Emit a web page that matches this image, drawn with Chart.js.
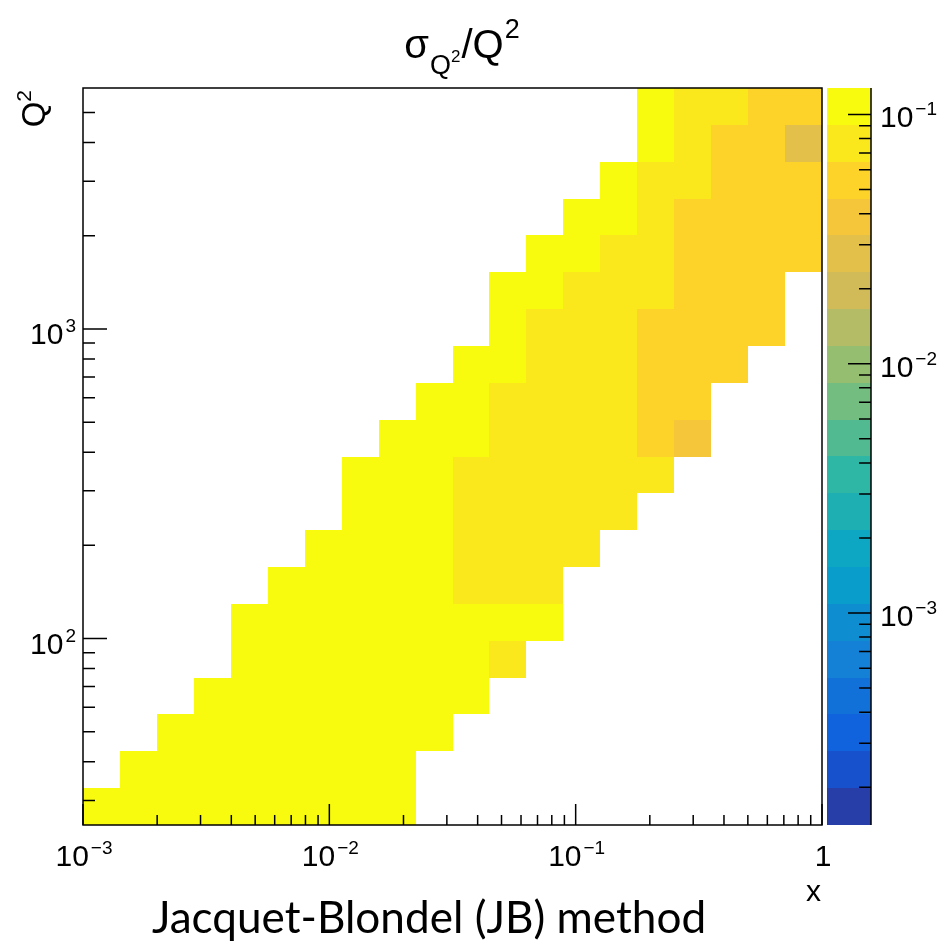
<!DOCTYPE html>
<html lang="en">
<head>
  <meta charset="UTF-8" />
  <title>sigma_Q2 / Q2 - Jacquet-Blondel method</title>
  <script src="https://cdn.jsdelivr.net/npm/chart.js"></script>
  <style>
    body { margin: 0; background: #fff; }
    #wrap { width: 937px; height: 945px; position: relative; }
  </style>
</head>
<body>
  <div id="wrap"><canvas id="jbChart" width="937" height="945"></canvas></div>

  <script>
    // histogram binning (log x, log Q2), 20 x 20 bins
    const xRange = [1e-3, 1];
    const yRange = [25, 6000];
    const zRange = [1.41e-4, 0.1277];
    const nBinsX = 20;
    const nBinsY = 20;
    const nContours = 20;

    // first filled x-bin of each Q2 row (row 0 = lowest Q2)
    const rowFirstBin = [0, 1, 2, 3, 4, 4, 5, 6, 7, 7, 8, 9, 10, 11, 11, 12, 13, 14, 15, 15];

    // sigma_Q2/Q2 in each filled bin, row by row
    const rowValues = [
      [0.127, 0.12, 0.12, 0.12, 0.12, 0.12, 0.12, 0.12, 0.12],
      [0.12, 0.12, 0.12, 0.12, 0.12, 0.12, 0.12, 0.12],
      [0.11, 0.11, 0.11, 0.11, 0.11, 0.11, 0.11, 0.11],
      [0.11, 0.11, 0.11, 0.11, 0.11, 0.11, 0.11, 0.10],
      [0.11, 0.11, 0.11, 0.11, 0.11, 0.11, 0.10, 0.08],
      [0.10, 0.10, 0.10, 0.10, 0.10, 0.10, 0.10, 0.10, 0.10],
      [0.10, 0.10, 0.10, 0.10, 0.10, 0.08, 0.08, 0.08],
      [0.10, 0.10, 0.10, 0.10, 0.078, 0.078, 0.078, 0.078],
      [0.10, 0.10, 0.10, 0.076, 0.076, 0.076, 0.076, 0.076],
      [0.10, 0.10, 0.10, 0.074, 0.074, 0.074, 0.074, 0.074, 0.074],
      [0.10, 0.10, 0.095, 0.074, 0.074, 0.074, 0.074, 0.056, 0.040],
      [0.10, 0.095, 0.072, 0.072, 0.072, 0.072, 0.055, 0.055],
      [0.10, 0.095, 0.072, 0.072, 0.072, 0.055, 0.055, 0.055],
      [0.095, 0.072, 0.072, 0.072, 0.054, 0.054, 0.054, 0.054],
      [0.10, 0.095, 0.072, 0.072, 0.072, 0.054, 0.054, 0.054],
      [0.10, 0.095, 0.072, 0.070, 0.054, 0.054, 0.054, 0.054],
      [0.10, 0.095, 0.070, 0.054, 0.054, 0.054, 0.054],
      [0.10, 0.068, 0.068, 0.053, 0.053, 0.053],
      [0.10, 0.068, 0.053, 0.052, 0.029],
      [0.10, 0.068, 0.072, 0.053, 0.052]
    ];

    // tick labels: [base, exponent]
    const xTickValues = [1e-3, 1e-2, 1e-1, 1];
    const xTickLabels = [["10", "\u22123"], ["10", "\u22122"], ["10", "\u22121"], ["1", ""]];
    const yTickValues = [100, 1000];
    const yTickLabels = [["10", "2"], ["10", "3"]];
    const zTickValues = [1e-3, 1e-2, 1e-1];
    const zTickLabels = [["10", "\u22123"], ["10", "\u22122"], ["10", "\u22121"]];

    // ROOT kBird palette
    const birdStops = [0.0, 0.125, 0.25, 0.375, 0.5, 0.625, 0.75, 0.875, 1.0];
    const birdR = [0.2082, 0.0592, 0.0780, 0.0232, 0.1802, 0.5301, 0.8186, 0.9956, 0.9764];
    const birdG = [0.1664, 0.3599, 0.5041, 0.6419, 0.7178, 0.7492, 0.7328, 0.7862, 0.9832];
    const birdB = [0.5293, 0.8684, 0.8385, 0.7914, 0.6425, 0.4662, 0.3499, 0.1968, 0.0539];

    const FONT = '"Liberation Sans", Arial, Helvetica, sans-serif';

    function birdColor(t) {
      let k = 0;
      while (k < birdStops.length - 2 && t > birdStops[k + 1]) k++;
      const f = (t - birdStops[k]) / (birdStops[k + 1] - birdStops[k]);
      const c = arr => Math.round(255 * (arr[k] + (arr[k + 1] - arr[k]) * f));
      return `rgb(${c(birdR)},${c(birdG)},${c(birdB)})`;
    }

    // colour of contour band b, the way ROOT picks it from 255 palette colours
    function bandColor(b) {
      const idx = Math.floor((b + 0.99) * 255 / nContours);
      return birdColor(Math.min(idx, 254) / 254);
    }

    function bandOf(v) {
      const lo = Math.log10(zRange[0]), hi = Math.log10(zRange[1]);
      const b = Math.floor((Math.log10(v) - lo) / (hi - lo) * nContours);
      return Math.max(0, Math.min(nContours - 1, b));
    }

    function logEdge(range, n, i) {
      const lo = Math.log10(range[0]), hi = Math.log10(range[1]);
      return Math.pow(10, lo + (hi - lo) * i / n);
    }

    const cells = [];
    rowValues.forEach((vals, r) => {
      vals.forEach((v, k) => {
        const i = rowFirstBin[r] + k;
        cells.push({
          x: Math.sqrt(logEdge(xRange, nBinsX, i) * logEdge(xRange, nBinsX, i + 1)),
          y: Math.sqrt(logEdge(yRange, nBinsY, r) * logEdge(yRange, nBinsY, r + 1)),
          v: v, ix: i, iy: r
        });
      });
    });

    function minorTicks(range) {
      const out = [];
      for (let e = Math.floor(Math.log10(range[0])); e <= Math.ceil(Math.log10(range[1])); e++) {
        for (let m = 2; m <= 9; m++) {
          const v = m * Math.pow(10, e);
          if (v > range[0] && v < range[1]) out.push(v);
        }
      }
      return out;
    }

    // draw "base^exp" text; align = left | center | right
    function drawPow(ctx, base, exp, x, y, align, size, expSize, rise) {
      ctx.font = `${size}px ${FONT}`;
      const wb = ctx.measureText(base).width;
      ctx.font = `${expSize}px ${FONT}`;
      const we = exp ? ctx.measureText(exp).width + 2 : 0;
      const w = wb + we;
      let x0 = x;
      if (align === "center") x0 = x - w / 2;
      if (align === "right") x0 = x - w;
      ctx.textAlign = "left";
      ctx.textBaseline = "alphabetic";
      ctx.font = `${size}px ${FONT}`;
      ctx.fillText(base, x0, y);
      if (exp) {
        ctx.font = `${expSize}px ${FONT}`;
        ctx.fillText(exp, x0 + wb + 2, y - rise);
      }
    }

    function drawRuns(ctx, runs, x0, y) {
      let x = x0;
      runs.forEach(r => {
        ctx.font = `${r.size}px ${FONT}`;
        ctx.fillText(r.t, x, y + r.dy);
        x += ctx.measureText(r.t).width + (r.gap || 0);
      });
    }

    function runsWidth(ctx, runs) {
      let w = 0;
      runs.forEach(r => {
        ctx.font = `${r.size}px ${FONT}`;
        w += ctx.measureText(r.t).width + (r.gap || 0);
      });
      return w;
    }

    const heatmapPlugin = {
      id: "heatmap",
      beforeDatasetsDraw(chart) {
        const ctx = chart.ctx;
        const xs = chart.scales.x, ys = chart.scales.y, zs = chart.scales.z;
        ctx.save();
        cells.forEach(c => {
          const l = Math.round(xs.getPixelForValue(logEdge(xRange, nBinsX, c.ix)));
          const r = Math.round(xs.getPixelForValue(logEdge(xRange, nBinsX, c.ix + 1)));
          const b = Math.round(ys.getPixelForValue(logEdge(yRange, nBinsY, c.iy)));
          const t = Math.round(ys.getPixelForValue(logEdge(yRange, nBinsY, c.iy + 1)));
          ctx.fillStyle = bandColor(bandOf(c.v));
          ctx.fillRect(l, t, r - l, b - t);
        });

        // colour bar
        const barL = 827, barR = 871;
        for (let k = 0; k < nContours; k++) {
          const b = Math.round(zs.getPixelForValue(logEdge(zRange, nContours, k)));
          const t = Math.round(zs.getPixelForValue(logEdge(zRange, nContours, k + 1)));
          ctx.fillStyle = bandColor(k);
          ctx.fillRect(barL, t, barR - barL, b - t);
        }
        ctx.restore();
      }
    };

    const axesPlugin = {
      id: "rootAxes",
      afterDraw(chart) {
        const ctx = chart.ctx;
        const a = chart.chartArea;
        const xs = chart.scales.x, ys = chart.scales.y, zs = chart.scales.z;
        ctx.save();
        ctx.strokeStyle = "#000";
        ctx.fillStyle = "#000";

        // frame
        ctx.lineWidth = 1.5;
        ctx.strokeRect(a.left, a.top, a.right - a.left, a.bottom - a.top);

        // x ticks
        ctx.beginPath();
        xTickValues.forEach(v => {
          const px = xs.getPixelForValue(v);
          ctx.moveTo(px, a.bottom); ctx.lineTo(px, a.bottom - 21);
        });
        minorTicks(xRange).forEach(v => {
          const px = xs.getPixelForValue(v);
          ctx.moveTo(px, a.bottom); ctx.lineTo(px, a.bottom - 10);
        });
        // y ticks
        yTickValues.forEach(v => {
          const py = ys.getPixelForValue(v);
          ctx.moveTo(a.left, py); ctx.lineTo(a.left + 24, py);
        });
        minorTicks(yRange).forEach(v => {
          const py = ys.getPixelForValue(v);
          ctx.moveTo(a.left, py); ctx.lineTo(a.left + 12, py);
        });
        ctx.stroke();

        // colour bar axis
        const barAxis = 871;
        ctx.beginPath();
        ctx.moveTo(barAxis, a.top); ctx.lineTo(barAxis, a.bottom);
        zTickValues.forEach(v => {
          const py = zs.getPixelForValue(v);
          ctx.moveTo(barAxis, py); ctx.lineTo(barAxis - 23, py);
        });
        minorTicks(zRange).forEach(v => {
          const py = zs.getPixelForValue(v);
          ctx.moveTo(barAxis, py); ctx.lineTo(barAxis - 12, py);
        });
        ctx.stroke();

        // tick labels
        xTickValues.forEach((v, i) => {
          drawPow(ctx, xTickLabels[i][0], xTickLabels[i][1], xs.getPixelForValue(v) + 1, a.bottom + 41, "center", 30, 19, 12);
        });
        yTickValues.forEach((v, i) => {
          drawPow(ctx, yTickLabels[i][0], yTickLabels[i][1], 76, ys.getPixelForValue(v) + 15, "right", 30, 19, 12);
        });
        zTickValues.forEach((v, i) => {
          drawPow(ctx, zTickLabels[i][0], zTickLabels[i][1], 880, zs.getPixelForValue(v) + 13, "left", 30, 19, 12);
        });

        // axis titles
        ctx.textBaseline = "alphabetic";
        ctx.textAlign = "right";
        ctx.font = `30px ${FONT}`;
        ctx.fillText("x", a.right - 1, a.bottom + 76);

        const yTitle = [
          { t: "Q", size: 33, dy: 0 },
          { t: "2", size: 21, dy: -14 }
        ];
        ctx.save();
        ctx.translate(45, a.top + 2);
        ctx.rotate(-Math.PI / 2);
        ctx.textAlign = "left";
        drawRuns(ctx, yTitle, -runsWidth(ctx, yTitle), 0);
        ctx.restore();

        // histogram title
        const title = [
          { t: "\u03c3", size: 40, dy: 0, gap: 1 },
          { t: "Q", size: 27, dy: 16 },
          { t: "2", size: 17, dy: 4, gap: 1 },
          { t: "/Q", size: 40, dy: 0, gap: 1 },
          { t: "2", size: 27, dy: -20 }
        ];
        ctx.textAlign = "left";
        const tw = runsWidth(ctx, title);
        drawRuns(ctx, title, 462 - tw / 2, 58);

        // caption under the plot
        ctx.textAlign = "center";
        ctx.font = `40px Lato, "Open Sans", sans-serif`;
        const capW = ctx.measureText("Jacquet-Blondel (JB) method").width;
        const capSize = 40 * 554 / capW;
        ctx.font = `${capSize.toFixed(1)}px Lato, "Open Sans", sans-serif`;
        ctx.fillText("Jacquet-Blondel (JB) method", 429, 933);

        ctx.restore();
      }
    };

    const ctx = document.getElementById("jbChart").getContext("2d");
    new Chart(ctx, {
      type: "scatter",
      data: {
        datasets: [{
          label: "sigma_Q2/Q2",
          data: cells,
          pointRadius: 0,
          pointHoverRadius: 0
        }]
      },
      options: {
        responsive: false,
        animation: false,
        layout: { padding: { left: 83, top: 88, right: 115, bottom: 120 } },
        scales: {
          x: { type: "logarithmic", min: xRange[0], max: xRange[1], display: false },
          y: { type: "logarithmic", min: yRange[0], max: yRange[1], display: false },
          z: { type: "logarithmic", axis: "y", position: "right", min: zRange[0], max: zRange[1], display: false }
        },
        plugins: {
          legend: { display: false },
          tooltip: { enabled: false }
        }
      },
      plugins: [heatmapPlugin, axesPlugin]
    });
  </script>
</body>
</html>
